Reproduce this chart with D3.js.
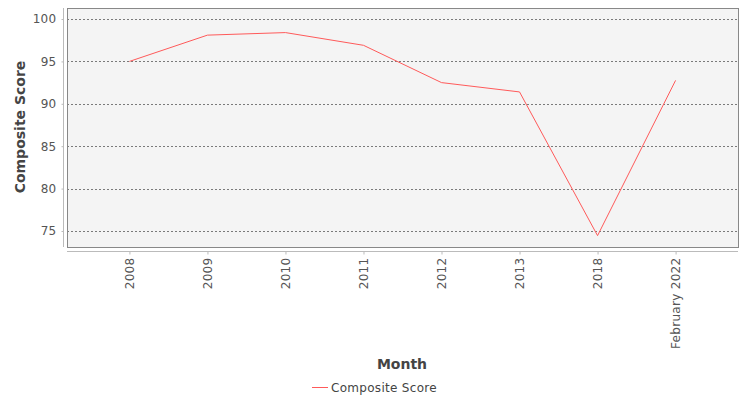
<!DOCTYPE html>
<html lang="en">
<head>
  <meta charset="UTF-8">
  <title>Composite Score</title>
  <script src="https://d3js.org/d3.v7.min.js"></script>
  <style>
    body { margin: 0; background: #fff; font-family: "DejaVu Sans", sans-serif; }
  </style>
</head>
<body>
  <div id="chart"></div>
  <script>

  // data
  const months = ["2008", "2009", "2010", "2011", "2012", "2013", "2018", "February 2022"];
  const scores = [95.0, 98.1, 98.4, 96.9, 92.5, 91.4, 74.45, 92.76];
  const yTicks = [75, 80, 85, 90, 95, 100];
  const seriesName = "Composite Score";

  const width = 750;
  const height = 400;
  const plot = {left: 67, right: 738, top: 8, bottom: 247};

  const svg = d3.select("#chart")
    .append("svg")
      .attr("width", width)
      .attr("height", height);

  const x = d3.scalePoint()
    .domain(months)
    .range([plot.left, plot.right])
    .padding(0.8);

  const y = d3.scaleLinear()
    .domain([73.11, 101.3])
    .range([plot.bottom, plot.top]);

  // plot background
  svg.append("rect")
    .attr("x", plot.left + 0.5)
    .attr("y", plot.top + 0.5)
    .attr("width", plot.right - plot.left)
    .attr("height", plot.bottom - plot.top)
    .attr("fill", "#f4f4f4");

  // gridlines
  svg.append("g")
    .selectAll("line")
    .data(yTicks)
    .enter()
    .append("line")
      .attr("x1", plot.left)
      .attr("x2", plot.right)
      .attr("y1", d => Math.round(y(d)) + 0.5)
      .attr("y2", d => Math.round(y(d)) + 0.5)
      .attr("stroke", "#7a7a7a")
      .attr("stroke-width", 1)
      .attr("stroke-dasharray", "2,2");

  // border
  svg.append("rect")
    .attr("x", plot.left + 0.5)
    .attr("y", plot.top + 0.5)
    .attr("width", plot.right - plot.left)
    .attr("height", plot.bottom - plot.top)
    .attr("fill", "none")
    .attr("stroke", "#888");

  // y axis
  const yAxis = svg.append("g")
    .attr("transform", "translate(63.5,0)")
    .call(d3.axisLeft(y).tickValues(yTicks).tickSize(2).tickPadding(5));
  yAxis.select(".domain")
    .attr("d", "M0," + plot.top + "V" + plot.bottom)
    .attr("stroke", "#bbb");
  yAxis.selectAll(".tick line").attr("stroke", "#bbb");
  yAxis.selectAll(".tick text")
    .attr("fill", "#555")
    .style("font-family", "DejaVu Sans")
    .style("font-size", "12px")
    .style("letter-spacing", "0.3px");

  // x axis
  const xAxis = svg.append("g")
    .attr("transform", "translate(0,251.5)")
    .call(d3.axisBottom(x).tickSize(3).tickPadding(5));
  xAxis.select(".domain")
    .attr("d", "M" + plot.left + ",0H" + plot.right)
    .attr("stroke", "#bbb");
  xAxis.selectAll(".tick line").attr("stroke", "#bbb");
  xAxis.selectAll(".tick text")
    .attr("fill", "#555")
    .style("font-family", "DejaVu Sans")
    .style("font-size", "12px")
    .style("letter-spacing", "0.3px")
    .attr("transform", "rotate(-90)")
    .attr("text-anchor", "end")
    .attr("x", -6)
    .attr("y", 0)
    .attr("dy", "0.35em");

  // axis titles
  svg.append("text")
    .attr("transform", "translate(25,127) rotate(-90)")
    .attr("text-anchor", "middle")
    .attr("fill", "#444")
    .style("font-size", "14px")
    .style("font-weight", "bold")
    .text("Composite Score");

  svg.append("text")
    .attr("x", 402)
    .attr("y", 369)
    .attr("text-anchor", "middle")
    .attr("fill", "#444")
    .style("font-size", "14px")
    .style("font-weight", "bold")
    .text("Month");

  // the series line
  const line = d3.line()
    .x((d, i) => x(months[i]))
    .y(d => y(d));

  svg.append("path")
    .datum(scores)
    .attr("d", line)
    .attr("fill", "none")
    .attr("stroke", "#ff5a5a")
    .attr("stroke-width", 1);

  // legend
  svg.append("line")
    .attr("x1", 312)
    .attr("x2", 328)
    .attr("y1", 387.5)
    .attr("y2", 387.5)
    .attr("stroke", "#ff5a5a");

  svg.append("text")
    .attr("x", 331)
    .attr("y", 392)
    .attr("fill", "#444")
    .style("font-size", "12px")
    .style("letter-spacing", "0.3px")
    .text(seriesName);

  </script>
</body>
</html>
